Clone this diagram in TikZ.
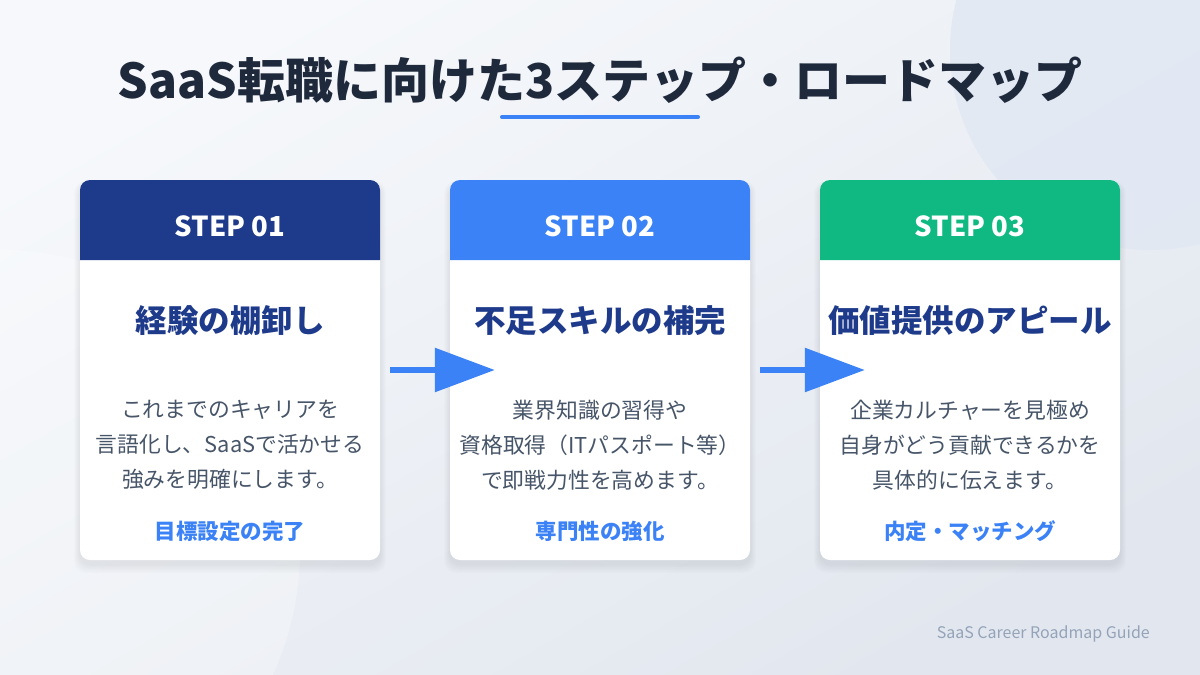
\documentclass[tikz,border=0pt]{standalone}
\usepackage{fontspec}
\setmainfont{Noto Sans CJK JP}
\usetikzlibrary{arrows.meta}
\definecolor{bgA}{HTML}{F6F8FB}
\definecolor{bgB}{HTML}{E2E7EF}
\definecolor{circA}{HTML}{E1E8F3}
\definecolor{ink}{HTML}{1E293B}
\definecolor{navy}{HTML}{1E3A8A}
\definecolor{accent}{HTML}{3B82F6}
\definecolor{mint}{HTML}{10B981}
\definecolor{bodytxt}{HTML}{475569}
\definecolor{foot}{HTML}{94A3B8}
\tikzset{
  cardbox/.style={fill=white, rounded corners=10pt, minimum width=300pt, minimum height=380pt, inner sep=0pt},
  steptxt/.style={text=white, font=\fontsize{27.5}{30}\selectfont\bfseries},
  cardtitle/.style={text=navy, font=\fontsize{31.5}{36}\selectfont\bfseries},
  bodystyle/.style={text=bodytxt, align=center, font=\fontsize{21.8}{35}\selectfont},
  goal/.style={text=accent, font=\fontsize{21.5}{24}\selectfont\bfseries},
  flow/.style={draw=accent, line width=6pt, -{Triangle[length=60pt,width=43pt]}, fill=accent}
}
\begin{document}
\begin{tikzpicture}[x=1pt,y=-1pt]
\useasboundingbox (0,0) rectangle (1200,675);
% background
\shade[shading=axis, top color=bgA, bottom color=bgB, shading angle=30] (0,0) rectangle (1200,675);
\begin{scope}
\clip (0,0) rectangle (1200,675);
\fill[circA, opacity=0.85] (1150,50) circle (200);
\fill[white, opacity=0.25] (0,550) circle (300);
\end{scope}
% title
\node[text=ink, font=\fontsize{48}{54}\selectfont\bfseries] (title) at (600,80) {SaaS転職に向けた3ステップ・ロードマップ};
\draw[accent, line width=4pt, line cap=round] (502,117) -- (698,117);
% cards
\foreach \cx/\hc/\nm in {230/navy/c1, 600/accent/c2, 970/mint/c3}{
  \foreach \k in {1,...,6}{
    \fill[black, opacity=0.012, rounded corners=12pt] (\cx-150-\k,180+4-\k*0.5) rectangle (\cx+150+\k,560+4+\k*1.5);
  }
  \node[cardbox] (\nm) at (\cx,370) {};
  \fill[\hc] (\cx-150,260) [rounded corners=10pt] -- (\cx-150,180) -- (\cx+150,180) [sharp corners] -- (\cx+150,260) -- cycle;
}
% headers
\node[steptxt] (s1) at (230,226) {STEP 01};
\node[steptxt] (s2) at (600,226) {STEP 02};
\node[steptxt] (s3) at (970,226) {STEP 03};
% titles
\node[cardtitle] (t1) at (230,321) {経験の棚卸し};
\node[cardtitle] (t2) at (600,321) {不足スキルの補完};
\node[cardtitle] (t3) at (970,321) {価値提供のアピール};
% body
\node[bodystyle] (b1) at (230,445) {これまでのキャリアを\\言語化し、SaaSで活かせる\\強みを明確にします。};
\node[bodystyle] (b2) at (600,445) {業界知識の習得や\\資格取得（ITパスポート等）\\で即戦力性を高めます。};
\node[bodystyle] (b3) at (970,445) {企業カルチャーを見極め\\自身がどう貢献できるかを\\具体的に伝えます。};
% goals
\node[goal] (g1) at (230,531) {目標設定の完了};
\node[goal] (g2) at (600,531) {専門性の強化};
\node[goal] (g3) at (970,531) {内定・マッチング};
% arrows
\draw[flow] ([xshift=10pt]c1.east) -- ([xshift=45pt]c2.west);
\draw[flow] ([xshift=10pt]c2.east) -- ([xshift=45pt]c3.west);
% footer
\node[text=foot, font=\fontsize{16}{18}\selectfont, anchor=east, inner sep=0pt] (foot) at (1150,634) {SaaS Career Roadmap Guide};
\end{tikzpicture}
\end{document}
